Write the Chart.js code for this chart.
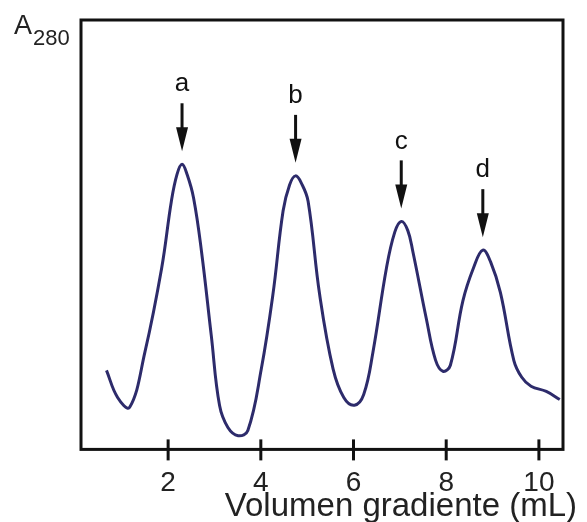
<!DOCTYPE html>
<html>
<head>
<meta charset="utf-8">
<script src="https://cdn.jsdelivr.net/npm/chart.js@4.4.0/dist/chart.umd.min.js"></script>
<style>
  html, body { margin: 0; padding: 0; background: #fff; }
  #wrap { width: 587px; height: 522px; }
</style>
</head>
<body>
<div id="wrap"><canvas id="chrom"></canvas></div>
<script>
// elution volume (mL) and absorbance
var volume = [0.67, 0.91, 1.17, 1.50, 1.86, 2.07, 2.19, 2.30, 2.41, 2.55, 2.72, 2.93, 3.11, 3.29, 3.51, 3.72,
  4.01, 4.26, 4.48, 4.62, 4.75, 4.88, 5.02, 5.27, 5.56, 5.79, 6.02, 6.22, 6.42, 6.71, 6.89, 7.03, 7.17,
  7.28, 7.57, 7.77, 7.93, 8.09, 8.36, 8.59, 8.79, 8.96, 9.17, 9.46, 9.63, 9.83, 10.16, 10.45];
var a280 = [18.4, 12.1, 9.8, 22.7, 42.2, 57.8, 64.0, 66.4, 64.0, 58.5, 46.1, 26.6, 10.2, 5.1, 3.2, 4.4,
  18.7, 36.0, 55.5, 61.6, 63.7, 61.9, 57.8, 36.0, 18.7, 12.1, 10.3, 12.8, 22.7, 42.2, 50.6, 53.1, 51.0,
  46.1, 30.5, 20.8, 18.2, 19.6, 34.6, 42.3, 46.4, 43.6, 36.5, 20.7, 16.8, 14.7, 13.5, 11.6];

var peakNames = ['a', 'b', 'c', 'd'];
var peakVolume = [2.30, 4.75, 7.03, 8.79];
var peakA280 = [66.4, 63.7, 53.1, 46.4];

var xTicks = [2, 4, 6, 8, 10];
var xTitle = 'Volumen gradiente (mL)';

var points = volume.map(function (v, i) { return { x: v, y: a280[i] }; });

var FONT = '"Liberation Sans", Arial, sans-serif';

// box around the plot, ticks that cross the bottom line, arrows, labels
var decor = {
  id: 'decor',
  afterDraw: function (chart) {
    var ctx = chart.ctx;
    var area = chart.chartArea;
    var xs = chart.scales.x, ys = chart.scales.y;
    ctx.save();
    ctx.strokeStyle = '#111';
    ctx.lineWidth = 3;
    ctx.strokeRect(area.left, area.top, area.right - area.left, area.bottom - area.top);

    xTicks.forEach(function (t) {
      var px = xs.getPixelForValue(t);
      ctx.beginPath();
      ctx.moveTo(px, area.bottom - 10);
      ctx.lineTo(px, area.bottom + 11);
      ctx.stroke();
    });

    // arrows over each peak
    ctx.fillStyle = '#111';
    ctx.textAlign = 'center';
    ctx.textBaseline = 'middle';
    ctx.font = '26px ' + FONT;
    peakNames.forEach(function (name, i) {
      var px = xs.getPixelForValue(peakVolume[i]);
      var tip = ys.getPixelForValue(peakA280[i]) - 13;
      ctx.lineWidth = 3;
      ctx.beginPath();
      ctx.moveTo(px, tip - 48);
      ctx.lineTo(px, tip - 20);
      ctx.stroke();
      ctx.beginPath();
      ctx.moveTo(px - 6, tip - 24);
      ctx.lineTo(px + 6, tip - 24);
      ctx.lineTo(px, tip);
      ctx.closePath();
      ctx.fill();
      ctx.fillText(name, px, tip - 67);
    });

    // y label with subscript
    ctx.textAlign = 'left';
    ctx.textBaseline = 'alphabetic';
    ctx.fillStyle = '#222';
    ctx.font = '27px ' + FONT;
    ctx.fillText('A', 14, 34);
    ctx.font = '22px ' + FONT;
    ctx.fillText('280', 33, 45);

    // x title, runs a little past the box on the right
    ctx.textAlign = 'right';
    ctx.font = '33px ' + FONT;
    ctx.fillText(xTitle, 577, 516);
    ctx.restore();
  }
};

new Chart(document.getElementById('chrom'), {
  type: 'line',
  data: {
    datasets: [{
      data: points,
      borderColor: '#2d2b6b',
      borderWidth: 3,
      pointRadius: 0,
      fill: false,
      tension: 0.4
    }]
  },
  options: {
    responsive: true,
    maintainAspectRatio: false,
    animation: false,
    layout: { padding: { left: 81, right: 24, top: 20, bottom: 5 } },
    plugins: { legend: { display: false }, tooltip: { enabled: false } },
    scales: {
      x: {
        type: 'linear',
        min: 0.12,
        max: 10.52,
        afterBuildTicks: function (scale) {
          scale.ticks = xTicks.map(function (v) { return { value: v }; });
        },
        grid: { display: false, drawTicks: false },
        border: { display: false },
        ticks: {
          color: '#222',
          padding: 17,
          maxRotation: 0,
          font: { family: FONT, size: 28 }
        }
      },
      y: {
        display: false,
        min: 0,
        max: 100
      }
    }
  },
  plugins: [decor]
});
</script>
</body>
</html>
